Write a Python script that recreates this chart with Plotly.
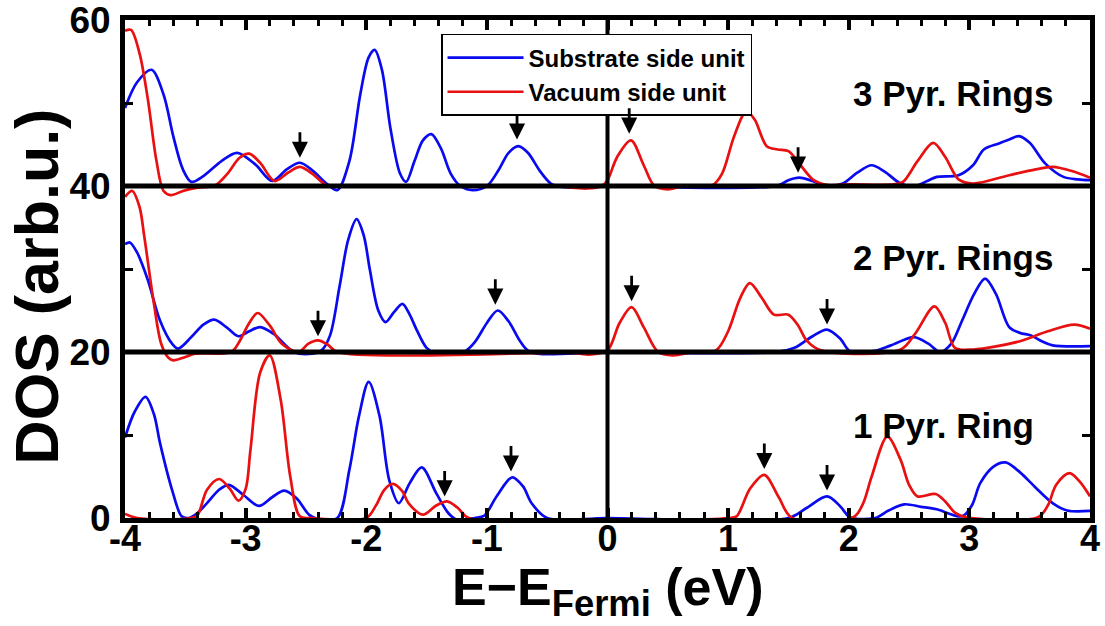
import plotly.graph_objects as go

# Energy grid points (eV) and DOS values for each panel, measured relative to the panel baseline.
# Panel order: 1 ring (bottom), 2 rings (middle), 3 rings (top).
panel_offsets = [0, 20, 40]
panel_labels = ["1 Pyr. Ring", "2 Pyr. Rings", "3 Pyr. Rings"]

# --- 1 pyridinic ring ---
sub1_x = [-4.0, -3.92, -3.83, -3.76, -3.71, -3.61, -3.53, -3.47, -3.4, -3.32, -3.22, -3.14, -3.02, -2.89,
          -2.78, -2.68, -2.58, -2.47, -2.38, -2.24, -2.14, -2.06, -1.98, -1.89, -1.81, -1.73, -1.64, -1.54,
          -1.42, -1.32, -1.25, -1.1, -1.02, -0.92, -0.79, -0.7, -0.63, -0.5, 0.0, 1.5, 1.65, 1.82, 1.93,
          2.01, 2.22, 2.33, 2.46, 2.6, 2.73, 2.94, 3.02, 3.09, 3.2, 3.3, 3.42, 3.54, 3.69, 3.81, 4.0]
sub1_y = [9.7, 12.8, 14.6, 12.5, 9.05, 3.4, 0.2, 0.0, 0.6, 1.8, 3.4, 4.0, 2.8, 1.45,
          2.5, 3.3, 2.4, 0.35, -0.2, 0.0, 5.8, 12.3, 16.4, 12.3, 4.6, 1.8, 4.2, 6.1,
          3.0, 0.6, -0.2, 0.0, 0.3, 2.6, 4.9, 3.8, 1.8, 0.0, 0.0, 0.0, 1.2, 2.6, 1.4,
          0.1, 0.0, 0.9, 1.65, 1.35, 1.05, 0.2, 1.5, 4.2, 6.2, 6.7, 5.5, 3.8, 1.8, 0.9, 0.85]
vac1_x = [-4.0, -3.9, -3.45, -3.4, -3.32, -3.22, -3.13, -3.06, -3.0, -2.96, -2.88, -2.8, -2.71, -2.63,
          -2.55, -2.45, -2.0, -1.92, -1.85, -1.78, -1.7, -1.65, -1.53, -1.42, -1.33, -1.24, -1.15, 1.0,
          1.07, 1.18, 1.3, 1.42, 1.53, 2.04, 2.12, 2.19, 2.32, 2.43, 2.5, 2.57, 2.72, 2.8, 2.88, 2.97,
          3.57, 3.65, 3.72, 3.83, 3.92, 4.0]
vac1_y = [0.5, 0.0, 0.0, 0.3, 3.4, 4.7, 3.5, 2.1, 3.5, 8.2, 17.5, 19.6, 14.3, 5.0,
          0.2, 0.0, 0.0, 1.5, 3.4, 4.1, 3.2, 1.8, 0.4, 1.5, 2.0, 1.2, 0.0, 0.0,
          0.2, 3.5, 5.2, 2.5, 0.0, 0.1, 1.8, 5.0, 9.8, 7.0, 4.0, 2.6, 2.9, 2.0, 0.65, 0.1,
          0.1, 1.5, 4.0, 5.4, 4.3, 2.6]

# --- 2 pyridinic rings ---
sub2_x = [-4.0, -3.96, -3.9, -3.81, -3.71, -3.61, -3.56, -3.45, -3.35, -3.26, -3.16, -3.06, -2.97, -2.88,
          -2.77, -2.6, -2.45, -2.37, -2.3, -2.22, -2.15, -2.08, -2.02, -1.97, -1.9, -1.84, -1.77, -1.7,
          -1.64, -1.58, -1.5, -1.42, -1.3, -1.19, -1.1, -1.0, -0.91, -0.82, -0.72, -0.64, 0.0, 1.4, 1.55,
          1.7, 1.82, 1.93, 2.01, 2.2, 2.35, 2.54, 2.66, 2.76, 2.85, 2.94, 3.04, 3.13, 3.22, 3.33, 3.42,
          3.51, 3.6, 3.69, 4.0]
sub2_y = [13.0, 13.2, 12.0, 8.65, 3.8, 1.0, 0.4, 1.8, 3.3, 3.9, 3.0, 1.9, 2.5, 3.0,
          2.2, 0.0, -0.2, 0.2, 2.0, 8.0, 13.5, 16.0, 14.0, 9.9, 5.0, 3.6, 4.8, 5.8,
          4.5, 2.6, 0.5, -0.2, -0.3, 0.0, 1.2, 3.5, 5.0, 3.7, 1.2, 0.0, 0.0, 0.0, 0.5,
          1.9, 2.7, 1.6, 0.1, 0.1, 0.8, 1.8, 1.0, 0.0, 1.0, 3.8, 7.0, 8.85, 7.0, 3.0, 2.3,
          2.0, 1.3, 0.8, 0.7]
vac2_x = [-4.0, -3.94, -3.88, -3.84, -3.76, -3.7, -3.64, -3.6, -3.5, -3.42, -3.12, -3.05, -2.97, -2.9,
          -2.8, -2.7, -2.56, -2.48, -2.4, -2.32, -2.24, -0.3, -0.14, 0.0, 0.1, 0.2, 0.3, 0.42, 0.54,
          0.72, 0.9, 1.0, 1.1, 1.18, 1.28, 1.38, 1.5, 1.58, 1.65, 1.77, 2.43, 2.55, 2.71, 2.8, 2.88,
          3.03, 3.42, 3.65, 3.87, 4.0]
vac2_y = [18.7, 19.4, 17.5, 13.9, 5.8, 1.0, -0.7, -1.0, -0.6, -0.2, 0.0, 1.3, 3.5, 4.7,
          3.2, 1.0, 0.0, 1.0, 1.4, 0.9, 0.0, -0.1, -0.3, 0.2, 3.5, 5.4, 3.0, 0.0, -0.4,
          0.0, 0.2, 2.5, 6.5, 8.3, 6.5, 4.5, 4.5, 3.2, 1.4, 0.2, 0.3, 2.2, 5.5, 3.5, 0.5,
          0.3, 1.3, 2.5, 3.3, 2.8]

# --- 3 pyridinic rings ---
sub3_x = [-4.0, -3.9, -3.78, -3.68, -3.6, -3.52, -3.45, -3.35, -3.2, -3.07, -2.92, -2.78, -2.66, -2.55,
          -2.44, -2.33, -2.24, -2.14, -2.05, -1.98, -1.93, -1.87, -1.8, -1.72, -1.67, -1.6, -1.53, -1.46,
          -1.38, -1.3, -1.22, -1.12, -1.0, -0.9, -0.82, -0.74, -0.66, -0.56, -0.47, -0.38, 0.0, 1.4, 1.5,
          1.59, 1.7, 1.8, 1.95, 2.07, 2.19, 2.3, 2.43, 2.55, 2.65, 2.73, 2.91, 3.03, 3.12, 3.24, 3.33,
          3.41, 3.5, 3.63, 3.78, 3.9, 4.0]
sub3_y = [9.4, 12.5, 14.0, 11.0, 6.0, 2.0, 0.5, 1.2, 3.0, 4.0, 2.6, 0.6, 2.0, 2.8,
          1.8, 0.3, -0.5, 3.0, 11.0, 15.5, 16.4, 14.0, 7.0, 1.5, 0.5, 3.0, 5.5, 6.25,
          4.5, 1.5, 0.0, -0.5, 0.0, 2.0, 4.0, 4.8, 4.0, 1.8, 0.3, -0.1, 0.0, 0.0, 0.7,
          1.0, 0.6, 0.0, 0.3, 1.6, 2.5, 1.7, 0.3, 0.0, 0.6, 1.1, 1.3, 2.5, 4.4, 5.1, 5.6,
          6.0, 5.2, 2.7, 1.1, 0.8, 0.7]
vac3_x = [-4.0, -3.95, -3.88, -3.81, -3.74, -3.68, -3.62, -3.52, -3.4, -3.25, -3.15, -3.05, -2.97, -2.88,
          -2.76, -2.65, -2.55, -2.44, -2.33, -2.2, -0.4, -0.3, -0.17, -0.05, 0.0, 0.08, 0.195, 0.3, 0.39,
          0.5, 0.63, 0.87, 0.95, 1.05, 1.15, 1.22, 1.32, 1.41, 1.5, 1.59, 1.71, 1.83, 2.0, 2.37, 2.45,
          2.57, 2.7, 2.8, 2.91, 3.03, 3.33, 3.55, 3.69, 3.85, 4.0]
vac3_y = [18.7, 18.8, 16.0, 10.4, 3.1, -0.6, -1.1, -0.6, -0.2, 0.1, 1.5, 3.4, 3.9, 2.8,
          0.6, 1.6, 2.3, 1.4, 0.1, 0.0, 0.0, -0.2, -0.3, 0.0, 0.7, 3.5, 5.5, 2.5, 0.0,
          -0.4, 0.0, 0.1, 1.5, 6.0, 9.0, 8.0, 4.8, 4.4, 4.2, 2.7, 0.7, 0.1, 0.2, 0.2, 0.5,
          3.0, 5.2, 3.5, 0.8, 0.3, 1.3, 2.0, 2.3, 1.8, 1.0]

substrate_x = [sub1_x, sub2_x, sub3_x]
substrate_y = [sub1_y, sub2_y, sub3_y]
vacuum_x = [vac1_x, vac2_x, vac3_x]
vacuum_y = [vac1_y, vac2_y, vac3_y]

# Marked states (arrow tips), relative to each panel baseline
arrow_x = [[-1.35, -0.8, 1.3, 1.82],
           [-2.4, -0.93, 0.2, 1.82],
           [-2.55, -0.75, 0.18, 1.58]]
arrow_y = [[2.6, 5.6, 5.9, 3.3],
           [1.9, 5.7, 6.1, 3.3],
           [3.4, 5.6, 6.3, 1.6]]

BLUE = "#0a0af0"
RED = "#e81010"
FONT = "Liberation Sans, Arial, sans-serif"

fig = go.Figure()

for i, off in enumerate(panel_offsets):
    fig.add_trace(go.Scatter(
        x=substrate_x[i], y=[v + off for v in substrate_y[i]],
        mode="lines", line=dict(color=BLUE, width=2.7, shape="spline", smoothing=0.9),
        name="Substrate side unit", legendgroup="sub", showlegend=(i == 0), legendrank=1,
    ))
    fig.add_trace(go.Scatter(
        x=vacuum_x[i], y=[v + off for v in vacuum_y[i]],
        mode="lines", line=dict(color=RED, width=2.7, shape="spline", smoothing=0.9),
        name="Vacuum side unit", legendgroup="vac", showlegend=(i == 0), legendrank=2,
    ))

# Panel separators and the Fermi level
for off in panel_offsets[1:]:
    fig.add_shape(type="line", xref="paper", x0=0, x1=1, yref="y", y0=off, y1=off,
                  line=dict(color="black", width=5), layer="above")
fig.add_shape(type="line", xref="x", x0=0, x1=0, yref="y", y0=0, y1=60,
              line=dict(color="black", width=4), layer="above")

# Arrows marking states
for i, off in enumerate(panel_offsets):
    for ax_, ay_ in zip(arrow_x[i], arrow_y[i]):
        fig.add_annotation(x=ax_, y=ay_ + off, ax=0, ay=-27, xref="x", yref="y",
                           showarrow=True, arrowhead=2, arrowsize=1.15, arrowwidth=2.8,
                           arrowcolor="black", standoff=0, text="")

# Panel labels
label_y = [11.2, 11.4, 11.2]
for i, off in enumerate(panel_offsets):
    fig.add_annotation(x=2.02, y=label_y[i] + off, xref="x", yref="y", xanchor="left",
                       yanchor="middle", showarrow=False, text=panel_labels[i],
                       font=dict(family=FONT, size=35, color="black", weight="bold"))

# Axis titles
fig.add_annotation(x=-0.0912, y=0.465, xref="paper", yref="paper", textangle=-90,
                   xanchor="center", yanchor="middle", showarrow=False, text="DOS (arb.u.)",
                   font=dict(family=FONT, size=61, color="black", weight="bold"))
fig.add_annotation(x=0.5, y=-0.217, xref="paper", yref="paper",
                   xanchor="center", yanchor="bottom", showarrow=False,
                   text="E\u2212E<sub>Fermi</sub> (eV)",
                   font=dict(family=FONT, size=52, color="black", weight="bold"))

fig.update_layout(
    width=1105, height=626,
    margin=dict(l=125, r=15, t=20, b=108),
    paper_bgcolor="white", plot_bgcolor="white",
    showlegend=True,
    legend=dict(x=0.3275, y=0.972, xanchor="left", yanchor="top",
                bgcolor="white", bordercolor="black", borderwidth=1.5,
                font=dict(family=FONT, size=24, color="black", weight="bold"),
                itemwidth=76, tracegroupgap=0, traceorder="normal"),
    font=dict(family=FONT, color="black"),
)

fig.update_xaxes(
    automargin=False,
    range=[-4, 4], tickmode="array", tickvals=[-4, -3, -2, -1, 0, 1, 2, 3, 4],
    ticktext=["-4", "-3", "-2", "-1", "0", "1", "2", "3", "4"],
    ticks="inside", ticklen=10, tickwidth=4, tickcolor="black",
    minor=dict(dtick=0.2, tick0=-4, ticks="inside", ticklen=6, tickwidth=3, tickcolor="black"),
    showline=True, linewidth=5, linecolor="black", mirror="ticks",
    showgrid=False, zeroline=False,
    tickfont=dict(family=FONT, size=36, color="black", weight="bold"),
    ticklabelstandoff=-15,
)
fig.update_yaxes(
    automargin=False,
    range=[0, 60], tickmode="array", tickvals=[0, 20, 40, 60],
    ticks="inside", ticklen=10, tickwidth=4, tickcolor="black",
    minor=dict(dtick=10, tick0=0, ticks="inside", ticklen=8, tickwidth=3, tickcolor="black"),
    showline=True, linewidth=5, linecolor="black", mirror="ticks",
    showgrid=False, zeroline=False,
    tickfont=dict(family=FONT, size=37, color="black", weight="bold"),
    ticklabelstandoff=2, ticklabeloverflow="allow",
)

fig.write_html("out.html")
